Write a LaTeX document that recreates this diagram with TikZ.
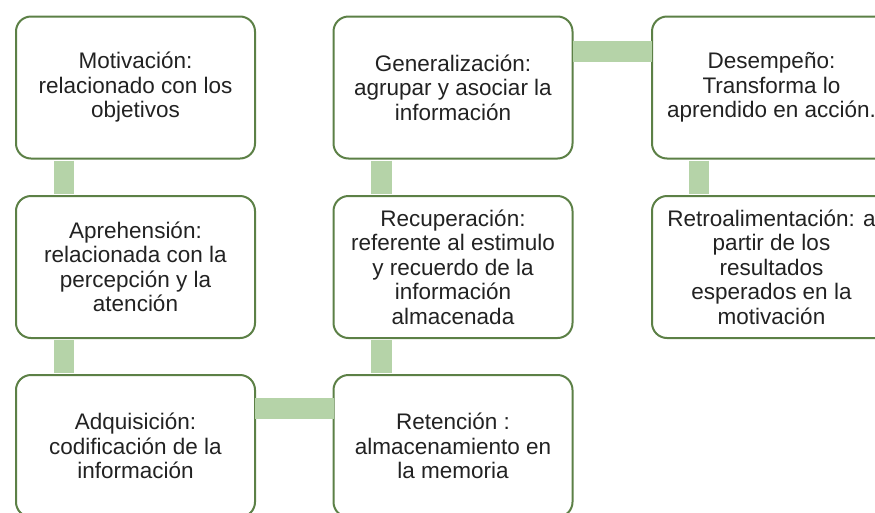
\documentclass[tikz,border=0pt]{standalone}
\usepackage{fontspec}
\setmainfont{Liberation Sans}
\usetikzlibrary{calc}
\definecolor{boxline}{RGB}{92,128,70}
\definecolor{barfill}{RGB}{181,211,168}
\definecolor{txt}{RGB}{34,34,34}
\tikzset{
  stage/.style={draw=boxline, line width=2pt, fill=white, rounded corners=15pt,
    minimum width=239pt, minimum height=142pt, inner sep=0pt, align=center,
    text=txt, font=\fontsize{22.5}{24.5}\selectfont},
  bar/.style={draw=barfill, line width=20.5pt, line cap=butt}
}
\begin{document}
\begin{tikzpicture}[x=1pt,y=-1pt]
\useasboundingbox (0,0) rectangle (875,512);
% nodes (drawn first for names; bars then drawn on background layer via order trick)
\path
  (135.5,87.5) node[stage] (mot) {Motivación:\\relacionado con los\\objetivos}
  (135.5,267)  node[stage] (apr) {Aprehensión:\\relacionada con la\\percepción y la\\atención}
  (135.5,446)  node[stage] (adq) {Adquisición:\\codificación de la\\información}
  (453,87.5)   node[stage] (gen) {Generalización:\\agrupar y asociar la\\información}
  (453,267)    node[stage] (rec) {Recuperación:\\referente al estimulo\\y recuerdo de la\\información\\almacenada}
  (453,446)    node[stage] (ret) {Retención :\\almacenamiento en\\la memoria}
  (771.5,87.5) node[stage] (des) {Desempeño:\\Transforma lo\\aprendido en acción.}
  (771.5,267)  node[stage] (rea) {Retroalimentación: a\\partir de los\\resultados\\esperados en la\\motivación};
% connector bars
\draw[bar] ($(mot.south west)+(49,1)$) -- ($(apr.north west)+(49,-1)$);
\draw[bar] ($(apr.south west)+(49,1)$) -- ($(adq.north west)+(49,-1)$);
\draw[bar] ($(rec.south west)+(49,1)$) -- ($(ret.north west)+(49,-1)$);
\draw[bar] ($(gen.south west)+(49,1)$) -- ($(rec.north west)+(49,-1)$);
\draw[bar] ($(des.south west)+(48,1)$) -- ($(rea.north west)+(48,-1)$);
\draw[bar] ($(gen.north east)+(-1,36)$) -- ($(des.north west)+(1,36)$);
\draw[bar] ($(adq.north east)+(-1,34.5)$) -- ($(ret.north west)+(1,34.5)$);
\end{tikzpicture}
\end{document}
